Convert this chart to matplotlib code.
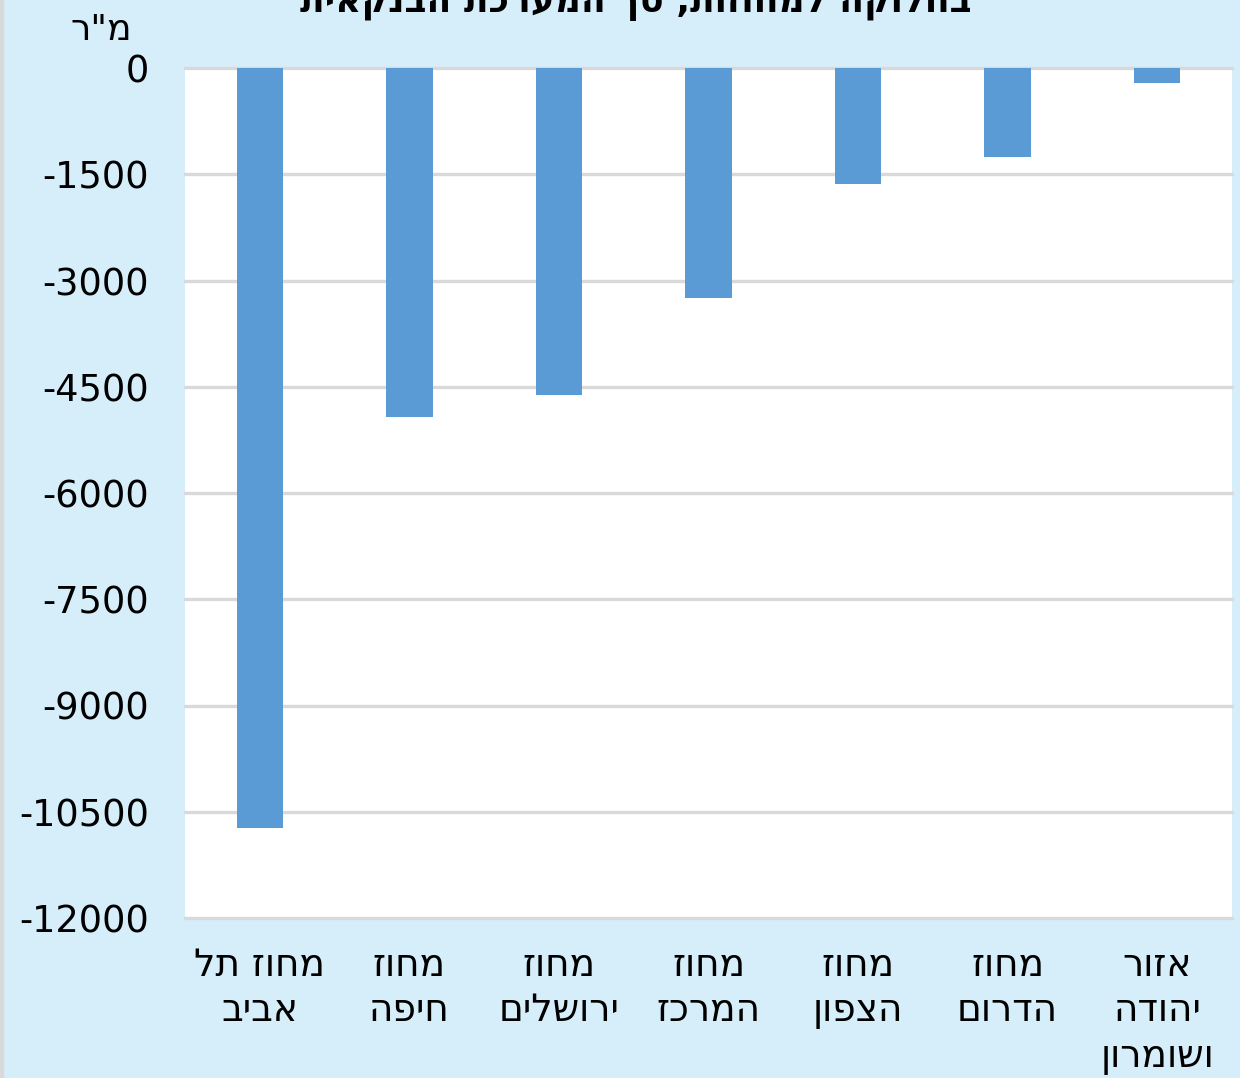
import matplotlib.pyplot as plt
from matplotlib.patches import Rectangle

# נתונים (מ"ר), משמאל לימין כפי שמופיע בתרשים
categories = [
    ["מחוז תל", "אביב"],
    ["מחוז", "חיפה"],
    ["מחוז", "ירושלים"],
    ["מחוז", "המרכז"],
    ["מחוז", "הצפון"],
    ["מחוז", "הדרום"],
    ["אזור", "יהודה", "ושומרון"],
]
values = [-10730, -4920, -4610, -3250, -1640, -1260, -210]
yticks = [0, -1500, -3000, -4500, -6000, -7500, -9000, -10500, -12000]

title = "בחלוקה למחוזות, סך המערכת הבנקאית"
unit = 'מ"ר'


def rtl(s):
    # matplotlib לא מטפל בכיווניות, הופכים ידנית
    return s[::-1]


bg = "#d5eefa"
bar_color = "#5b9bd5"
grid_color = "#d9d9d9"

fig = plt.figure(figsize=(12.4, 10.78), dpi=100)
fig.patch.set_facecolor(bg)
ax = fig.add_axes([185 / 1240, 1 - 918 / 1078, 1047 / 1240, 850 / 1078])
ax.set_facecolor("white")

x = list(range(len(values)))
ax.bar(x, values, width=0.31, color=bar_color, zorder=3)

ax.set_xlim(-0.5, len(values) - 0.5)
ax.set_ylim(-12000, 0)
ax.set_yticks(yticks)
ax.set_yticklabels([str(v) for v in yticks], fontsize=26.5, family="DejaVu Sans")
ax.tick_params(axis="y", length=0, pad=26)
ax.set_xticks([])
for v in yticks:
    ax.axhline(v, color=grid_color, lw=2.4, zorder=2, clip_on=False)
for s in ax.spines.values():
    s.set_visible(False)

# תוויות הקטגוריות
for i, lines in enumerate(categories):
    txt = "\n".join(rtl(l) for l in lines)
    ax.text(i, -12000 - 1500 * 30 / 106, txt, ha="center", va="top",
            fontsize=27, linespacing=1.33,
            family=["Liberation Sans Narrow", "DejaVu Sans"])

fig.text(101 / 1240, 1 - 40 / 1078, rtl(unit), ha="center", va="baseline",
         fontsize=26, family="DejaVu Sans")
fig.text(636 / 1240, 1 - 12 / 1078, rtl(title), ha="center", va="baseline",
         fontsize=26, fontweight="bold",
         family=["Liberation Sans Narrow", "DejaVu Sans"])

# פס אפור דק בשוליים השמאליים
fig.patches.append(Rectangle((0, 0), 3 / 1240, 1, transform=fig.transFigure,
                             color="#d9d9d9", zorder=0))

plt.savefig("out.png", dpi=100, facecolor=bg)
